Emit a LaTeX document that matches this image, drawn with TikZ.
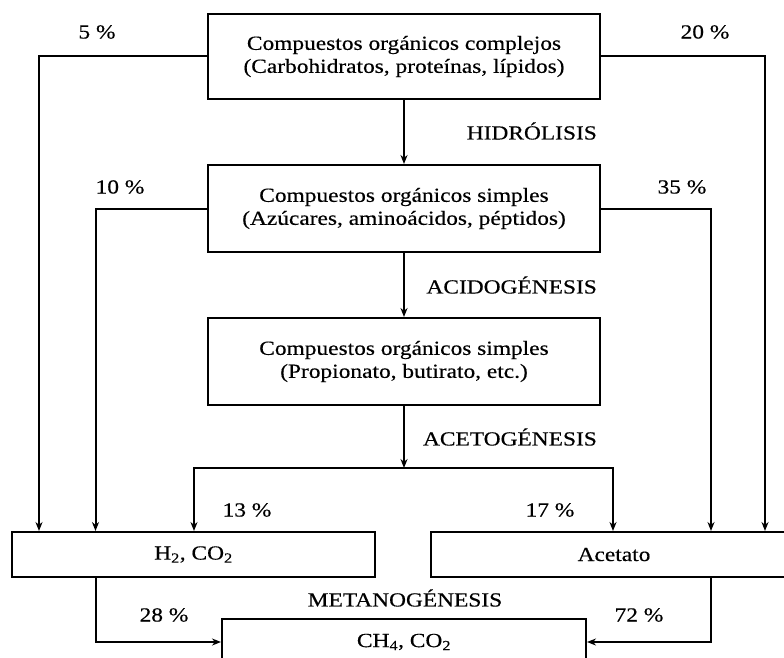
\documentclass[tikz,border=0pt]{standalone}
\usepackage{fontspec}
\setmainfont{Liberation Serif}[FakeStretch=1.17,FakeBold=0.4]
\usetikzlibrary{arrows.meta}
\begin{document}
\begin{tikzpicture}[x=1pt,y=-1pt,
  every node/.style={font=\fontsize{20}{23}\selectfont},
  box/.style={draw,line width=2pt,inner sep=0pt,align=center},
  lbl/.style={inner sep=0pt},
  arr/.style={line width=2pt,-{Stealth[length=9pt,width=7pt]}},
  ln/.style={line width=2pt}]
\useasboundingbox (0,0) rectangle (784,658);
\node[box,minimum width=391.5pt,minimum height=85pt] (top) at (404,56.5)
  {Compuestos orgánicos complejos\\(Carbohidratos, proteínas, lípidos)};
\node[box,minimum width=391.5pt,minimum height=87pt] (mid) at (404,208.5)
  {Compuestos orgánicos simples\\(Azúcares, aminoácidos, péptidos)};
\node[box,minimum width=391.5pt,minimum height=87pt] (low) at (404,361.5)
  {Compuestos orgánicos simples\\(Propionato, butirato, etc.)};
\node[box,minimum width=363pt,minimum height=45pt] (hbox) at (193.5,554.5)
  {H\textsubscript{2}, CO\textsubscript{2}};
\node[box,minimum width=366pt,minimum height=45pt] (abox) at (614,554.5)
  {Acetato};
\node[box,minimum width=364pt,minimum height=46pt] (bot) at (404,642)
  {CH\textsubscript{4}, CO\textsubscript{2}};
\coordinate (split) at (404,468);
% labels
\node[lbl] (p5) at (97,32) {5 \%};
\node[lbl] (p20) at (705,32) {20 \%};
\node[lbl] (p10) at (120,187) {10 \%};
\node[lbl] (p35) at (682,187) {35 \%};
\node[lbl,anchor=east] (hid) at (597,131) {HIDRÓLISIS};
\node[lbl,anchor=east] (aci) at (597,285) {ACIDOGÉNESIS};
\node[lbl,anchor=east] (ace) at (597,437) {ACETOGÉNESIS};
\node[lbl] (p13) at (247,510) {13 \%};
\node[lbl] (p17) at (550,510) {17 \%};
\node[lbl] (met) at (405,598) {METANOGÉNESIS};
\node[lbl] (p28) at (164,615) {28 \%};
\node[lbl] (p72) at (639,615) {72 \%};
% connectors
\draw[arr] (top.south) -- (mid.north);
\draw[arr] (mid.south) -- (low.north);
\draw[arr] (low.south) -- (split);
\draw[arr] (top.west) -| ([xshift=28pt]hbox.north west);
\draw[arr] (mid.west) -| ([xshift=84.5pt]hbox.north west);
\draw[arr] (split) -| ([xshift=183pt]hbox.north west);
\draw[arr] (split) -| ([xshift=183pt]abox.north west);
\draw[arr] (mid.east) -| ([xshift=281pt]abox.north west);
\draw[arr] (top.east) -| ([xshift=335pt]abox.north west);
\draw[arr] ([xshift=84.5pt]hbox.south west) |- (bot.west);
\draw[arr] ([xshift=281pt]abox.south west) |- (bot.east);
\end{tikzpicture}
\end{document}
